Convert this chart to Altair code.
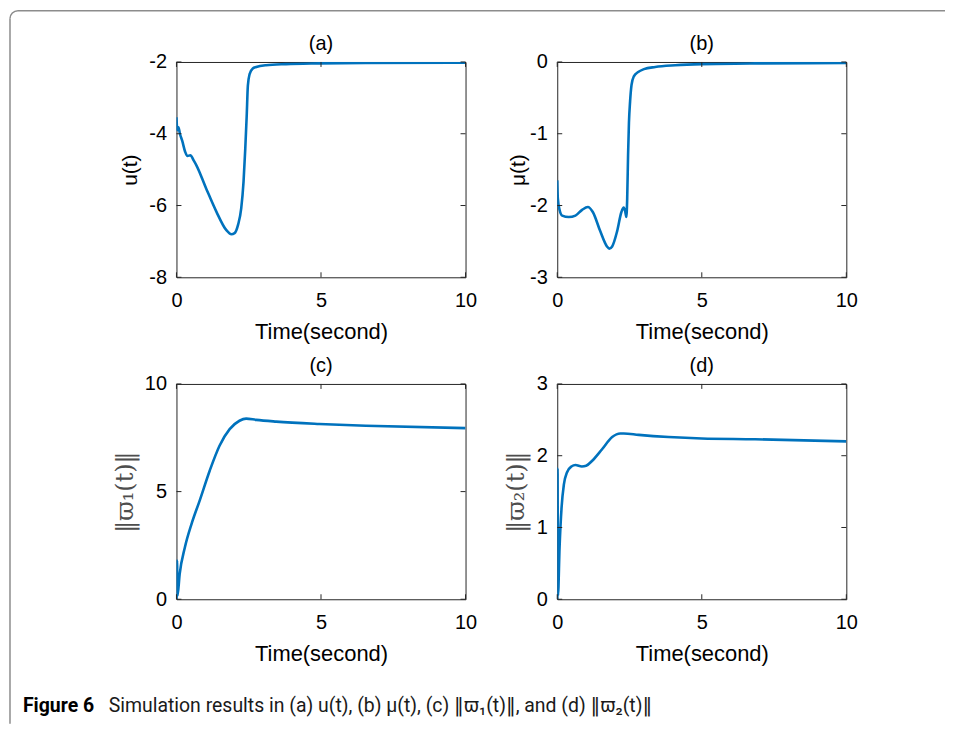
import altair as alt
import pandas as pd

# ---- data ----
t_a = [0, 0.03, 0.07, 0.12, 0.2, 0.3, 0.38, 0.48, 0.6, 0.69, 1.03, 1.38, 1.72, 1.9, 2.01, 2.13, 2.24, 2.32, 2.38, 2.43, 2.47, 2.53, 2.64, 2.76, 3.1, 3.79, 4.94, 6.55, 10]
u_a = [-3.54, -3.90, -3.82, -4.0, -4.2, -4.5, -4.62, -4.6, -4.75, -4.88, -5.53, -6.17, -6.68, -6.8, -6.77, -6.54, -6.08, -5.34, -4.42, -3.5, -2.66, -2.34, -2.18, -2.14, -2.09, -2.06, -2.04, -2.025, -2.02]

t_b = [0, 0.02, 0.08, 0.17, 0.4, 0.63, 0.86, 1.06, 1.23, 1.49, 1.72, 1.80, 1.90, 2.07, 2.22, 2.30, 2.35, 2.39, 2.42, 2.45, 2.48, 2.52, 2.57, 2.65, 2.8, 3.0, 3.39, 4.08, 5.0, 6.84, 10]
mu_b = [-1.65, -1.9, -2.06, -2.14, -2.16, -2.14, -2.06, -2.02, -2.09, -2.36, -2.57, -2.60, -2.57, -2.36, -2.09, -2.03, -2.08, -2.16, -1.9, -1.3, -0.85, -0.55, -0.32, -0.2, -0.14, -0.1, -0.07, -0.046, -0.03, -0.02, -0.015]

t_c = [0, 0.02, 0.035, 0.11, 0.29, 0.52, 0.80, 1.15, 1.49, 1.84, 2.18, 2.41, 2.76, 3.45, 4.94, 6.55, 10]
w1_c = [0, 1.8, 0.15, 1.16, 2.4, 3.49, 4.57, 5.97, 7.13, 7.9, 8.29, 8.39, 8.33, 8.25, 8.14, 8.06, 7.95]

t_d = [0, 0.01, 0.025, 0.08, 0.15, 0.23, 0.34, 0.49, 0.63, 0.85, 1.0, 1.21, 1.55, 1.90, 2.18, 2.30, 2.82, 3.85, 5.0, 6.84, 10]
w2_d = [0, 1.82, 0.05, 0.72, 1.28, 1.6, 1.77, 1.85, 1.87, 1.85, 1.86, 1.93, 2.09, 2.26, 2.31, 2.31, 2.29, 2.26, 2.24, 2.23, 2.2]

x_ticks = [0, 5, 10]
caption_bold = "Figure 6"
caption_rest = "Simulation results in (a) u(t), (b) μ(t), (c) ‖ϖ₁(t)‖, and (d) ‖ϖ₂(t)‖"

W, H = 290, 216
BLUE = "#0072BD"
AX = "#262626"
FONT = "Liberation Sans"
CAPFONT = "Roboto, 'DejaVu Sans'"
TL = 5  # inner tick length
LBL = "'' + datum.value"


def panel(t, v, ydom, yticks, title, ytitle, ytx, yfont, ysize, ycolor, extra=None):
    df = pd.DataFrame({"t": t, "v": v})
    xsc = alt.Scale(domain=[0, 10], nice=False, zero=False)
    ysc = alt.Scale(domain=ydom, nice=False, zero=False)
    xenc = alt.X("t:Q", scale=xsc, axis=alt.Axis(
        values=x_ticks, title="Time(second)", ticks=False, domain=False, grid=False,
        labelPadding=13, labelFontSize=20, labelFlush=False, labelOverlap=False, labelExpr=LBL,
        labelFont=FONT, labelColor="black",
        titleFont=FONT, titleFontSize=22, titleFontWeight="normal", titleColor="black",
        titleX=W / 2, titleY=54, titleBaseline="middle", titleAnchor="middle"))
    yenc = alt.Y("v:Q", scale=ysc, axis=alt.Axis(
        values=yticks, title=ytitle, ticks=False, domain=False, grid=False,
        labelPadding=10, labelFontSize=20, labelFlush=False, labelOverlap=False, labelExpr=LBL,
        labelFont=FONT, labelColor="black",
        titleFont=yfont, titleFontSize=ysize, titleColor=ycolor, titleFontWeight="normal",
        titleX=ytx, titleY=H / 2, titleBaseline="middle", titleAngle=270, titleAlign="center"))
    line = alt.Chart(df).mark_line(color=BLUE, strokeWidth=2.6, interpolate="monotone", clip=True).encode(x=xenc, y=yenc)
    ydf = pd.DataFrame({"v": yticks})
    xdf = pd.DataFrame({"t": x_ticks})
    yl = alt.Chart(ydf).mark_rule(color=AX, strokeWidth=1).encode(y=alt.Y("v:Q", scale=ysc), x=alt.value(0), x2=alt.value(TL))
    yr = alt.Chart(ydf).mark_rule(color=AX, strokeWidth=1).encode(y=alt.Y("v:Q", scale=ysc), x=alt.value(W - TL), x2=alt.value(W))
    xb = alt.Chart(xdf).mark_rule(color=AX, strokeWidth=1).encode(x=alt.X("t:Q", scale=xsc), y=alt.value(H), y2=alt.value(H - TL))
    xt = alt.Chart(xdf).mark_rule(color=AX, strokeWidth=1).encode(x=alt.X("t:Q", scale=xsc), y=alt.value(0), y2=alt.value(TL))
    ttl = alt.Chart(one).mark_text(text=title, font=FONT, fontSize=20, color="black", align="center",
                                   baseline="alphabetic").encode(x=alt.value(W / 2), y=alt.value(-12))
    layers = [line, yl, yr, xb, xt, ttl]
    if extra:
        layers += extra
    return alt.layer(*layers).properties(width=W, height=H)


one = pd.DataFrame({"k": [0]})
FR = "#8c8c8c"
frame_left = alt.Chart(one).mark_rule(color=FR, strokeWidth=1.5).encode(x=alt.value(-167), y=alt.value(-43.5), y2=alt.value(664))
frame_top = alt.Chart(one).mark_rule(color=FR, strokeWidth=1.5).encode(y=alt.value(-51.5), x=alt.value(-159), x2=alt.value(771))
frame_arc = alt.Chart(one).mark_arc(color=FR, radius=8.75, radius2=7.25, theta=4.712389, theta2=6.283185).encode(x=alt.value(-159), y=alt.value(-43.5))
cap1 = alt.Chart(one).mark_text(text=caption_bold, font=CAPFONT, fontSize=19.5, fontWeight="bold", align="left", baseline="alphabetic", color="black").encode(x=alt.value(-154), y=alt.value(652))
cap2 = alt.Chart(one).mark_text(text=caption_rest, font=CAPFONT, fontSize=19.5, align="left", baseline="alphabetic", color="#1a1a1a").encode(x=alt.value(-68), y=alt.value(652))

pa = panel(t_a, u_a, [-8, -2], [-8, -6, -4, -2], "(a)", "u(t)", -46, FONT, 21, "black",
           extra=[frame_left, frame_top, frame_arc, cap1, cap2])
pb = panel(t_b, mu_b, [-3, 0], [-3, -2, -1, 0], "(b)", "μ(t)", -39, FONT, 21, "black")
pc = panel(t_c, w1_c, [0, 10], [0, 5, 10], "(c)", "‖ϖ₁(t)‖", -51, "DejaVu Serif", 24, "#4d4d4d")
pd_ = panel(t_d, w2_d, [0, 3], [0, 1, 2, 3], "(d)", "‖ϖ₂(t)‖", -41, "DejaVu Serif", 24, "#4d4d4d")

chart = alt.concat(pa, pb, pc, pd_, columns=2, spacing={"row": 107, "column": 92}, bounds="flush").properties(
    padding=0, background="white"
).configure_view(
    stroke=AX, strokeWidth=1
)

chart.save("out.html", embed_options={"renderer": "svg", "actions": False})
